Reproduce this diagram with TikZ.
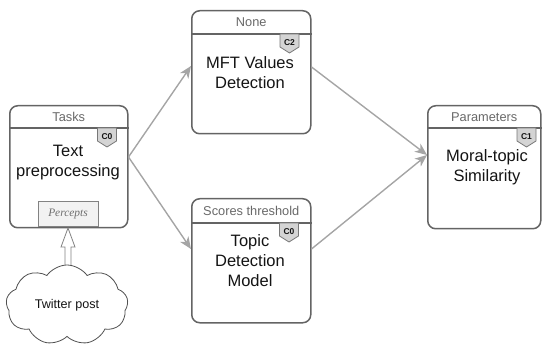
\documentclass[tikz,border=0pt]{standalone}
\usepackage{fontspec}
\setmainfont{Liberation Sans}
\newfontfamily\serifit{Liberation Serif}
\usetikzlibrary{arrows.meta,calc,shapes.symbols}
\definecolor{bord}{RGB}{100,100,100}
\definecolor{hdrc}{RGB}{105,105,105}
\definecolor{arrc}{RGB}{165,165,165}
\definecolor{bfill}{RGB}{212,212,212}
\definecolor{bdraw}{RGB}{120,120,120}
\definecolor{pfill}{RGB}{242,242,242}
\definecolor{pdraw}{RGB}{130,130,130}
\definecolor{ptext}{RGB}{110,110,110}
\definecolor{cloudc}{RGB}{80,80,80}
\definecolor{hollowc}{RGB}{130,130,130}
\definecolor{maint}{RGB}{20,20,20}
\newcommand\mybadge[4]{%
  \coordinate (#1) at (#2,#3);
  \draw[badgeshape] ($(#1)+(-9.5,0)$) -- ($(#1)+(9.5,0)$) -- ($(#1)+(9.5,13)$) -- ($(#1)+(0,19)$) -- ($(#1)+(-9.5,13)$) -- cycle;
  \node[badgetxt] (#1t) at ($(#1)+(0,8.5)$) {#4};
}
\begin{document}
\begin{tikzpicture}[x=1pt,y=-1pt,
  box/.style={draw=bord, line width=1.5pt, rounded corners=8pt, fill=white, anchor=north west, inner sep=0pt},
  hline/.style={draw=bord, line width=1.2pt},
  hdr/.style={text=hdrc, font=\fontsize{12.8}{14}\selectfont, inner sep=0pt},
  main/.style={text=maint, font=\fontsize{16.5}{20}\selectfont, align=center, inner sep=0pt},
  conn/.style={draw=arrc, line width=1.4pt, -{Stealth[length=12pt,width=10pt,inset=3.5pt]}},
  badgeshape/.style={fill=bfill, draw=bdraw, line width=0.8pt, line join=round},
  badgetxt/.style={font=\bfseries\fontsize{8.5}{9}\selectfont, inner sep=0pt, text=maint},
]
\useasboundingbox (0,0) rectangle (542,353);

% boxes
\node[box, minimum width=118pt, minimum height=122pt] (tasks) at (9,105) {};
\node[box, minimum width=119pt, minimum height=123pt] (mft) at (191,10) {};
\node[box, minimum width=119pt, minimum height=124pt] (topic) at (191,198) {};
\node[box, minimum width=113pt, minimum height=123pt] (params) at (427,105) {};

% header lines
\draw[hline] ($(tasks.north west)+(0,23)$) -- ($(tasks.north east)+(0,23)$);
\draw[hline] ($(mft.north west)+(0,24)$) -- ($(mft.north east)+(0,24)$);
\draw[hline] ($(topic.north west)+(0,25)$) -- ($(topic.north east)+(0,25)$);
\draw[hline] ($(params.north west)+(0,23)$) -- ($(params.north east)+(0,23)$);

% headers
\node[hdr] (tasksh) at ($(tasks.north)+(0,12)$) {Tasks};
\node[hdr] (mfth) at ($(mft.north)+(0,12.5)$) {None};
\node[hdr] (topich) at ($(topic.north)+(0,13)$) {Scores threshold};
\node[hdr] (paramsh) at ($(params.north)+(0,12)$) {Parameters};

% badges
\mybadge{b1}{107}{128}{C0}
\mybadge{b2}{289.5}{34}{C2}
\mybadge{b3}{289}{223}{C0}
\mybadge{b4}{526.5}{128}{C1}

% main texts
\node[main] (taskst) at (68,163) {Text\\preprocessing};
\node[main] (mftt) at (250,73) {MFT Values\\Detection};
\node[main] (topict) at (250,261) {Topic\\Detection\\Model};
\node[main] (paramst) at (487,167) {Moral-topic\\Similarity};

% percepts
\node[draw=pdraw, fill=pfill, line width=0.8pt, minimum width=60pt, minimum height=25pt,
      anchor=south, inner sep=0pt, text=ptext,
      font=\serifit\itshape\fontsize{11.4}{12}\selectfont] (perc) at (68,227) {Percepts};

% hollow arrow
\coordinate (htip) at ($(perc.south)+(0,1)$);
\draw[draw=hollowc, fill=white, line width=0.8pt, line join=miter]
  (htip) -- ++(7,19) -- ++(-4,0) -- ++(0,38) -- ++(-6,0) -- ++(0,-38) -- ++(-4,0) -- cycle;

% cloud
\node[cloud, cloud puffs=9, cloud puff arc=110, aspect=1.55, draw=cloudc, fill=white,
      line width=0.8pt, minimum width=122pt, minimum height=80pt, inner sep=0pt,
      text=maint, font=\fontsize{12.6}{14}\selectfont] (cloud) at (67,305) {Twitter post};

% connectors
\coordinate (tasksout) at ($(tasks.north east)+(0,52)$);
\coordinate (mftin) at ($(mft.north west)+(0,56)$);
\coordinate (mftout) at ($(mft.north east)+(0,57)$);
\coordinate (topicin) at ($(topic.north west)+(0,51)$);
\coordinate (topicout) at ($(topic.north east)+(0,51)$);
\coordinate (paramsin) at ($(params.north west)+(0,50)$);
\draw[conn] (tasksout) -- (mftin);
\draw[conn] (tasksout) -- (topicin);
\draw[conn] (mftout) -- (paramsin);
\draw[conn] (topicout) -- (paramsin);
\end{tikzpicture}
\end{document}
